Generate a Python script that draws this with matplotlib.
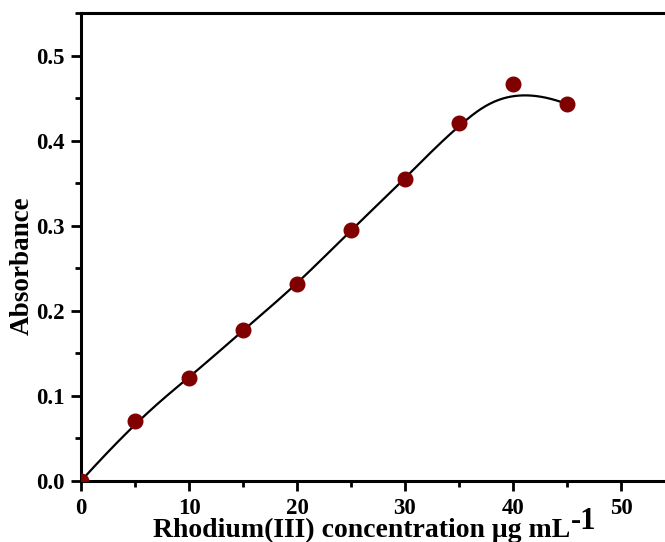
import numpy as np
import matplotlib
matplotlib.use("Agg")
import matplotlib.pyplot as plt
from matplotlib.ticker import MultipleLocator

# Rhodium(III) calibration data
concentration = [0, 5, 10, 15, 20, 25, 30, 35, 40, 45]
absorbance = [0.0, 0.070, 0.121, 0.177, 0.231, 0.295, 0.355, 0.421, 0.467, 0.443]


def clamped_bspline(xs, ys, n=400, k=3):
    """Cubic B-spline using the data points as control points (clamped ends)."""
    pts = np.column_stack([xs, ys]).astype(float)
    m = len(pts)
    inner = np.linspace(0, 1, m - k + 1)
    knots = np.concatenate([[0] * k, inner, [1] * k])
    ts = np.linspace(0, 1, n)
    out = []
    for t in ts:
        if t >= 1:
            out.append(pts[-1])
            continue
        # Cox-de Boor basis evaluation
        N = np.zeros(len(knots) - 1)
        for i in range(len(knots) - 1):
            if knots[i] <= t < knots[i + 1]:
                N[i] = 1.0
        for d in range(1, k + 1):
            Nn = np.zeros(len(knots) - 1 - d)
            for i in range(len(Nn)):
                a = 0.0
                if knots[i + d] != knots[i]:
                    a = (t - knots[i]) / (knots[i + d] - knots[i]) * N[i]
                b = 0.0
                if knots[i + d + 1] != knots[i + 1]:
                    b = (knots[i + d + 1] - t) / (knots[i + d + 1] - knots[i + 1]) * N[i + 1]
                Nn[i] = a + b
            N = Nn
        out.append(N[:m] @ pts)
    out = np.array(out)
    return out[:, 0], out[:, 1]


plt.rcParams["font.family"] = ["Liberation Serif", "DejaVu Serif"]
plt.rcParams["font.weight"] = "bold"

fig = plt.figure(figsize=(6.65, 5.42), dpi=100)
ax = fig.add_axes([81 / 665, 61 / 542, 594 / 665, 468 / 542])

cx, cy = clamped_bspline(concentration, absorbance)
ax.plot(cx, cy, color="black", lw=1.6, zorder=2)
ax.plot(concentration, absorbance, "o", color="#800000", markersize=10.5, zorder=3)

ax.set_xlim(0, 55)
ax.set_ylim(0, 0.55)
ax.xaxis.set_major_locator(MultipleLocator(10))
ax.xaxis.set_minor_locator(MultipleLocator(5))
ax.yaxis.set_minor_locator(MultipleLocator(0.05))
ax.set_yticks([0.0, 0.1, 0.2, 0.3, 0.4, 0.5])
ax.set_yticklabels(["0.0", "0.1", "0.2", "0.3", "0.4", "0.5"])

for s in ax.spines.values():
    s.set_linewidth(2.2)
ax.tick_params(which="major", direction="out", length=7, width=2, labelsize=16.5, pad=5)
ax.tick_params(which="minor", direction="out", length=4, width=2)
for lbl in ax.get_xticklabels() + ax.get_yticklabels():
    lbl.set_fontweight("bold")

ax.set_ylabel("Absorbance", fontsize=19.5, fontweight="bold")
ax.yaxis.set_label_coords(-0.078, 0.46)

xl = ax.set_xlabel("Rhodium(III) concentration μg mL", fontsize=20, fontweight="bold")
ax.xaxis.set_label_coords(0.472, -0.079)

# superscript unit exponent placed right after the axis label
fig.canvas.draw()
bb = xl.get_window_extent()
fig.text((bb.x1 + 1) / fig.bbox.width, (bb.y1 + 11) / fig.bbox.height, "-1",
         fontsize=22, fontweight="bold", ha="left", va="top")

fig.savefig("out.png", dpi=100)
